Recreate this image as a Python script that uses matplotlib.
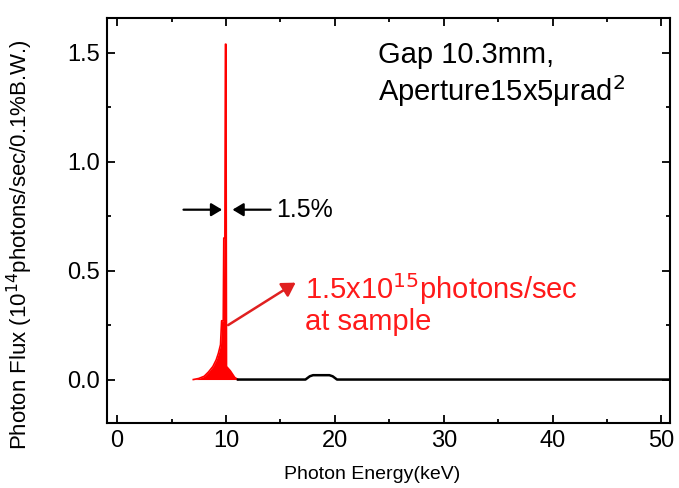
import numpy as np
import matplotlib.pyplot as plt
from matplotlib.ticker import MultipleLocator

plt.rcParams['font.family'] = ['Liberation Sans', 'DejaVu Sans']

# first harmonic (shown in red) and the tail above it (black)
red_energy = [7.0, 7.5, 8.0, 8.4, 8.8, 9.1, 9.3, 9.5, 9.6, 9.75, 9.8, 9.9,
              9.95, 10.0, 10.05, 10.4, 10.8, 11.1]
red_flux = [0.0, 0.005, 0.015, 0.035, 0.06, 0.09, 0.12, 0.16, 0.27, 0.27,
            0.65, 0.65, 1.54, 1.54, 0.06, 0.04, 0.01, 0.0]

tail_energy = [11.1, 17.3, 17.7, 18.0, 19.5, 19.8, 20.2, 51.0]
tail_flux = [0.0, 0.0, 0.015, 0.02, 0.02, 0.015, 0.0, 0.0]

fig = plt.figure(figsize=(6.79, 4.88), dpi=100)
ax = fig.add_axes([0.158, 0.133, 0.829, 0.830])

ax.fill_between(red_energy, red_flux, 0, color='#ff0000', lw=0)
ax.plot(red_energy, red_flux, color='#ff0000', lw=1.2)
ax.plot(tail_energy, tail_flux, color='black', lw=1.8)

ax.set_xlim(-0.9, 50.8)
ax.set_ylim(-0.2, 1.66)
ax.xaxis.set_major_locator(MultipleLocator(10))
ax.xaxis.set_minor_locator(MultipleLocator(5))
ax.yaxis.set_major_locator(MultipleLocator(0.5))
ax.yaxis.set_minor_locator(MultipleLocator(0.25))
ax.tick_params(which='both', direction='in', top=True, right=True, width=1.3,
               labelsize=17, colors='black')
ax.tick_params(which='major', length=6, pad=5)
ax.tick_params(which='minor', length=3)
for s in ax.spines.values():
    s.set_linewidth(1.5)

ax.set_xlabel('Photon Energy(keV)', fontsize=14)
ax.xaxis.set_label_coords(0.47, -0.105)
ax.set_ylabel('Photon Flux (10$^{14}$photons/sec/0.1%B.W.)', fontsize=16)
ax.yaxis.set_label_coords(-0.128, 0.44)

# bandwidth marker
head = '-|>,head_length=0.5,head_width=0.3'
ax.annotate('', xy=(9.65, 0.78), xytext=(6.1, 0.78),
            arrowprops=dict(arrowstyle=head, color='black', lw=1.6,
                            mutation_scale=13, shrinkA=0, shrinkB=0))
ax.annotate('', xy=(10.6, 0.78), xytext=(14.1, 0.78),
            arrowprops=dict(arrowstyle=head, color='black', lw=1.6,
                            mutation_scale=13, shrinkA=0, shrinkB=0))
ax.text(14.6, 0.78, '1.5%', fontsize=18, va='center', ha='left')

ax.annotate('', xy=(16.4, 0.445), xytext=(10.2, 0.25),
            arrowprops=dict(arrowstyle='-|>,head_length=0.5,head_width=0.3',
                            color='#e02020', lw=1.8, mutation_scale=16,
                            shrinkA=0, shrinkB=0))
ax.text(17.3, 0.35, '1.5x10$^{15}$photons/sec\nat sample', color='#ff1a1a',
        fontsize=21, va='center', ha='left', linespacing=1.05)

ax.text(24.0, 1.40, 'Gap 10.3mm,\nAperture15x5\u03bcrad$^2$', fontsize=21,
        va='center', ha='left', linespacing=1.15)

fig.savefig('out.png', dpi=100)
